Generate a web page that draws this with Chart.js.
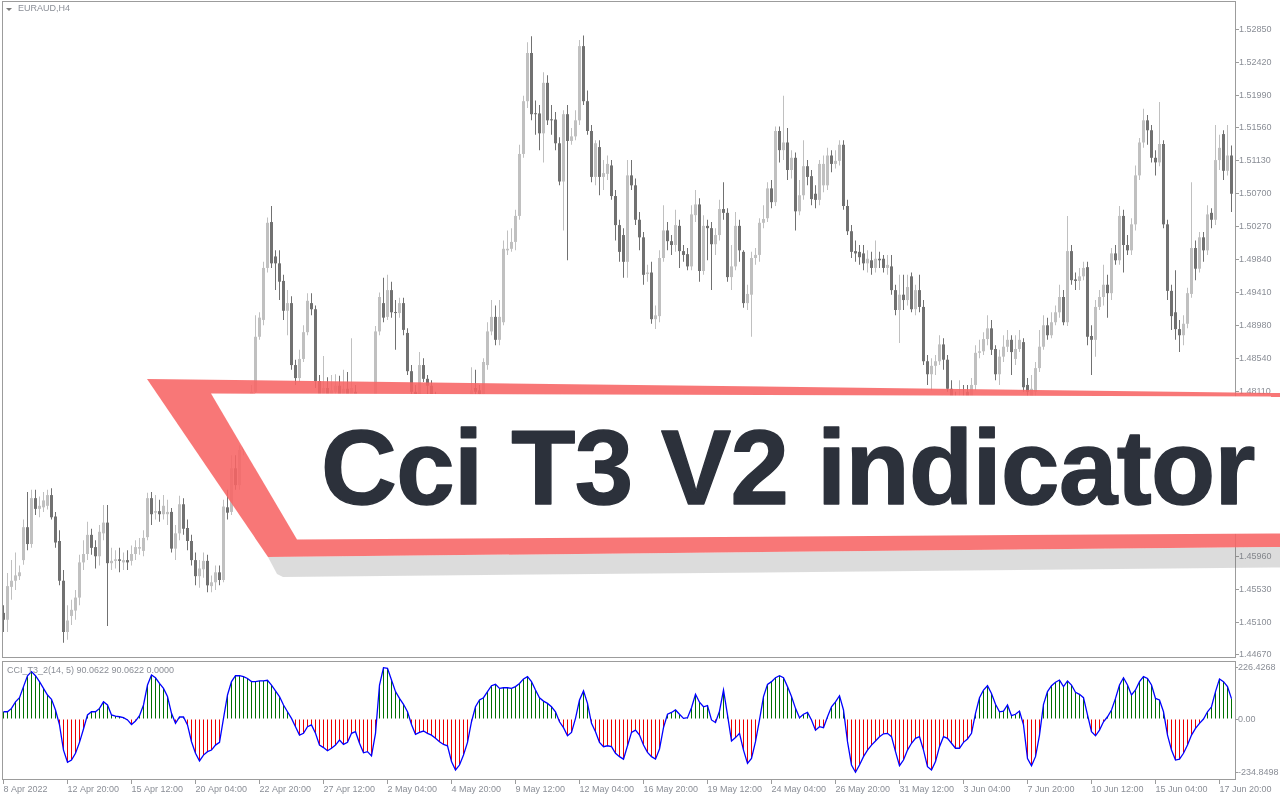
<!DOCTYPE html>
<html><head><meta charset="utf-8">
<script src="https://cdn.jsdelivr.net/npm/chart.js@4.4.1/dist/chart.umd.min.js"></script>
<style>
html,body{margin:0;padding:0;background:#fff;width:1280px;height:800px;overflow:hidden;}
#wrap{position:relative;width:1280px;height:800px;}
canvas{position:absolute;left:0;}
#c1{top:0;} #c2{top:660px;}
.lbl{position:absolute;font-family:'Liberation Sans',Arial,sans-serif;font-size:9px;color:#8a8e96;white-space:nowrap;line-height:1;}
svg{position:absolute;left:0;top:0;}
</style></head><body>
<div id="wrap">
<canvas id="c1" width="1280" height="660"></canvas>
<canvas id="c2" width="1280" height="140"></canvas>
<div class="lbl" style="left:18px;top:3.5px;">EURAUD,H4</div>
<div class="lbl" style="left:7px;top:666px;">CCI_T3_2(14, 5) 90.0622 90.0622 0.0000</div>
<svg width="1280" height="800">
  <polygon points="6,8 12,8 9,11" fill="#7b7b7b"/>
  <polygon points="268,557 1280,547 1280,567.5 283,577 277,574" fill="rgba(110,110,110,0.24)"/>
  <polygon points="147,379 1280,393 1280,547 268,557" fill="rgba(247,100,100,0.88)"/>
  <polygon points="211,393.5 1280,396.5 1280,533.5 297,539.5" fill="#ffffff"/>
  <text x="321" y="504" font-family="Liberation Sans, Arial, sans-serif" font-weight="700" font-size="105" letter-spacing="-0.6" fill="#2c313b" stroke="#2c313b" stroke-width="1.4" stroke-linejoin="round">Cci T3 V2 indicator</text>
</svg>
</div>
<script>
// ---- data (EURAUD H4) ----
const tickLabels = ['8 Apr 2022','12 Apr 20:00','15 Apr 12:00','20 Apr 04:00','22 Apr 20:00','27 Apr 12:00','2 May 04:00','4 May 20:00','9 May 12:00','12 May 04:00','16 May 20:00','19 May 12:00','24 May 04:00','26 May 20:00','31 May 12:00','3 Jun 04:00','7 Jun 20:00','10 Jun 12:00','15 Jun 04:00','17 Jun 20:00'];
const tickBars = [0,16,32,48,64,80,96,112,128,144,160,176,192,208,224,240,256,272,288,304];
const priceTicks = [1.52850,1.52420,1.51990,1.51560,1.51130,1.50700,1.50270,1.49840,1.49410,1.48980,1.48540,1.48110,1.47680,1.47250,1.46820,1.46390,1.45960,1.45530,1.45100,1.44670];
const cciTicks = [-234.8498, 0, 226.4268];
const cciTickLabels = ['-234.8498','0.00','226.4268'];

const open = [
1.4522,1.4513,1.4556,1.4564,1.4570,1.4591,1.4634,1.4612,1.4672,1.4658,1.4660,1.4662,1.4676,1.4648,1.4616,1.4564,
1.4497,1.4518,1.4525,1.4542,1.4588,1.4599,1.4624,1.4608,1.4596,1.4626,1.4640,1.4587,1.4590,1.4592,1.4588,1.4591,
1.4590,1.4599,1.4606,1.4603,1.4621,1.4672,1.4653,1.4655,1.4651,1.4651,1.4654,1.4606,1.4626,1.4664,1.4633,1.4616,
1.4591,1.4570,1.4579,1.4590,1.4557,1.4562,1.4575,1.4565,1.4660,1.4654,1.4711,1.4689,1.4735,1.4761,1.4787,1.4811,
1.4883,1.4905,1.4973,1.5033,1.4988,1.4979,1.4956,1.4917,1.4927,1.4846,1.4829,1.4854,1.4889,1.4927,1.4919,1.4825,
1.4807,1.4816,1.4805,1.4811,1.4819,1.4808,1.4815,1.4807,1.4811,1.4798,1.4785,1.4774,1.4781,1.4772,1.4890,1.4927,
1.4909,1.4944,1.4915,1.4914,1.4927,1.4888,1.4838,1.4811,1.4807,1.4846,1.4828,1.4819,1.4803,1.4794,1.4785,1.4790,
1.4774,1.4748,1.4735,1.4751,1.4774,1.4800,1.4816,1.4813,1.4808,1.4846,1.4890,1.4909,1.4879,1.4902,1.4996,1.4998,
1.5007,1.5041,1.5122,1.5191,1.5254,1.5175,1.5175,1.5149,1.5215,1.5167,1.5167,1.5136,1.5086,1.5174,1.5139,1.5145,
1.5166,1.5263,1.5191,1.5152,1.5092,1.5131,1.5092,1.5096,1.5107,1.5067,1.5029,1.5016,1.4981,1.5094,1.5081,1.5036,
1.5013,1.4965,1.4967,1.4906,1.4910,1.4986,1.5022,1.5008,1.5003,1.5028,1.4995,1.4991,1.4975,1.5042,1.5056,1.4969,
1.5028,1.5025,1.5004,1.5016,1.5050,1.5045,1.4961,1.4975,1.5028,1.4994,1.4927,1.4938,1.4986,1.4990,1.5032,1.5038,
1.5077,1.5059,1.5152,1.5127,1.5137,1.5101,1.5117,1.5047,1.5068,1.5106,1.5093,1.5070,1.5062,1.5081,1.5081,1.5120,
1.5109,1.5113,1.5134,1.5054,1.5021,1.4995,1.4994,1.4992,1.4979,1.4983,1.4973,1.4985,1.4985,1.4973,1.4975,1.4944,
1.4918,1.4938,1.4931,1.4962,1.4919,1.4944,1.4922,1.4851,1.4834,1.4845,1.4851,1.4873,1.4853,1.4815,1.4803,1.4794,
1.4800,1.4811,1.4803,1.4820,1.4862,1.4864,1.4880,1.4894,1.4867,1.4834,1.4857,1.4870,1.4879,1.4854,1.4867,1.4876,
1.4820,1.4800,1.4811,1.4842,1.4870,1.4898,1.4885,1.4902,1.4915,1.4935,1.4902,1.4995,1.4958,1.4956,1.4962,1.4974,
1.4884,1.4879,1.4922,1.4935,1.4951,1.4940,1.4992,1.4983,1.5041,1.5003,1.4996,1.5030,1.5094,1.5137,1.5166,1.5153,
1.5117,1.5111,1.5135,1.5030,1.4943,1.4915,1.4893,1.4885,1.4900,1.4939,1.4999,1.4972,1.5013,1.4996,1.5045,1.5036,
1.5114,1.5148,1.5100,1.5120];

const high = [
1.4532,1.4574,1.4591,1.4601,1.4584,1.4644,1.4680,1.4683,1.4683,1.4674,1.4680,1.4683,1.4685,1.4654,1.4630,1.4578,
1.4532,1.4539,1.4552,1.4598,1.4617,1.4641,1.4632,1.4617,1.4637,1.4663,1.4663,1.4607,1.4604,1.4607,1.4601,1.4604,
1.4610,1.4617,1.4620,1.4630,1.4679,1.4680,1.4676,1.4670,1.4676,1.4670,1.4659,1.4637,1.4675,1.4672,1.4644,1.4624,
1.4601,1.4591,1.4601,1.4598,1.4571,1.4584,1.4584,1.4670,1.4683,1.4728,1.4728,1.4741,1.4768,1.4800,1.4820,1.4911,
1.4915,1.4981,1.5039,1.5054,1.4996,1.4996,1.4964,1.4944,1.4936,1.4853,1.4866,1.4898,1.4940,1.4940,1.4924,1.4833,
1.4858,1.4830,1.4833,1.4834,1.4832,1.4840,1.4837,1.4881,1.4820,1.4805,1.4794,1.4790,1.4790,1.4897,1.4941,1.4960,
1.4964,1.4955,1.4931,1.4934,1.4934,1.4894,1.4846,1.4820,1.4863,1.4855,1.4833,1.4826,1.4811,1.4800,1.4798,1.4795,
1.4781,1.4753,1.4758,1.4781,1.4807,1.4843,1.4840,1.4820,1.4855,1.4902,1.4931,1.4924,1.4931,1.5009,1.5022,1.5025,
1.5049,1.5134,1.5198,1.5268,1.5276,1.5192,1.5186,1.5229,1.5225,1.5186,1.5177,1.5144,1.5179,1.5186,1.5156,1.5179,
1.5271,1.5277,1.5205,1.5160,1.5140,1.5140,1.5114,1.5120,1.5114,1.5075,1.5036,1.5025,1.5114,1.5114,1.5090,1.5046,
1.5020,1.4977,1.4981,1.4924,1.4996,1.5055,1.5033,1.5016,1.5049,1.5036,1.5003,1.4999,1.5055,1.5075,1.5064,1.5042,
1.5036,1.5033,1.5025,1.5062,1.5085,1.5051,1.5003,1.5046,1.5036,1.4996,1.4951,1.4994,1.4999,1.5038,1.5055,1.5085,
1.5088,1.5158,1.5158,1.5198,1.5156,1.5127,1.5124,1.5088,1.5140,1.5114,1.5101,1.5081,1.5114,1.5120,1.5130,1.5127,
1.5127,1.5140,1.5140,1.5062,1.5029,1.5009,1.5003,1.5003,1.4996,1.4994,1.5009,1.4994,1.4990,1.4990,1.4990,1.4951,
1.4964,1.4964,1.4964,1.4967,1.4951,1.4964,1.4931,1.4859,1.4855,1.4859,1.4885,1.4881,1.4859,1.4826,1.4811,1.4826,
1.4820,1.4820,1.4829,1.4872,1.4879,1.4889,1.4911,1.4905,1.4872,1.4866,1.4885,1.4892,1.4885,1.4885,1.4892,1.4881,
1.4829,1.4833,1.4850,1.4892,1.4911,1.4908,1.4915,1.4924,1.4951,1.4944,1.5041,1.5003,1.4967,1.4973,1.4981,1.4981,
1.4898,1.4931,1.4944,1.4977,1.4964,1.4999,1.5003,1.5054,1.5049,1.5016,1.5038,1.5107,1.5143,1.5181,1.5173,1.5160,
1.5127,1.5190,1.5140,1.5036,1.4951,1.4970,1.4905,1.4911,1.4947,1.5085,1.5009,1.5020,1.5020,1.5055,1.5051,1.5160,
1.5147,1.5153,1.5160,1.5133];

const low = [
1.4497,1.4497,1.4539,1.4552,1.4565,1.4585,1.4604,1.4607,1.4650,1.4647,1.4654,1.4657,1.4644,1.4607,1.4558,1.4483,
1.4487,1.4506,1.4513,1.4532,1.4578,1.4591,1.4598,1.4580,1.4584,1.4617,1.4505,1.4578,1.4580,1.4575,1.4578,1.4578,
1.4584,1.4591,1.4598,1.4596,1.4617,1.4637,1.4644,1.4641,1.4644,1.4637,1.4601,1.4591,1.4617,1.4624,1.4604,1.4584,
1.4558,1.4555,1.4568,1.4549,1.4549,1.4552,1.4558,1.4562,1.4644,1.4650,1.4683,1.4683,1.4728,1.4754,1.4780,1.4807,
1.4879,1.4898,1.4967,1.4973,1.4944,1.4931,1.4905,1.4885,1.4840,1.4820,1.4824,1.4850,1.4885,1.4911,1.4816,1.4800,
1.4800,1.4798,1.4800,1.4803,1.4800,1.4803,1.4798,1.4800,1.4790,1.4777,1.4764,1.4768,1.4761,1.4768,1.4885,1.4902,
1.4905,1.4908,1.4866,1.4908,1.4885,1.4833,1.4800,1.4798,1.4803,1.4824,1.4807,1.4798,1.4787,1.4777,1.4780,1.4768,
1.4742,1.4725,1.4728,1.4745,1.4768,1.4794,1.4803,1.4800,1.4803,1.4840,1.4885,1.4872,1.4872,1.4898,1.4990,1.4994,
1.4996,1.5036,1.5117,1.5182,1.5166,1.5147,1.5127,1.5111,1.5160,1.5147,1.5127,1.5081,1.5022,1.4983,1.5134,1.5140,
1.5160,1.5186,1.5147,1.5085,1.5081,1.5068,1.5075,1.5088,1.5062,1.5009,1.4981,1.4960,1.4960,1.5075,1.5029,1.4996,
1.4951,1.4955,1.4900,1.4893,1.4902,1.4981,1.4996,1.4990,1.4994,1.4973,1.4981,1.4970,1.4970,1.5033,1.4955,1.4964,
1.4983,1.4944,1.4990,1.5009,1.5036,1.4955,1.4944,1.4970,1.4981,1.4921,1.4918,1.4883,1.4977,1.4981,1.5025,1.5033,
1.5051,1.5054,1.5111,1.5114,1.5088,1.5090,1.5022,1.5042,1.5062,1.5081,1.5055,1.5051,1.5055,1.5072,1.5075,1.5098,
1.5103,1.5107,1.5049,1.5016,1.4986,1.4981,1.4977,1.4970,1.4967,1.4964,1.4967,1.4973,1.4967,1.4964,1.4938,1.4911,
1.4875,1.4918,1.4924,1.4915,1.4911,1.4915,1.4846,1.4820,1.4813,1.4833,1.4846,1.4840,1.4811,1.4794,1.4785,1.4787,
1.4787,1.4798,1.4798,1.4813,1.4855,1.4859,1.4872,1.4859,1.4826,1.4820,1.4850,1.4863,1.4833,1.4846,1.4863,1.4811,
1.4800,1.4794,1.4806,1.4837,1.4866,1.4879,1.4881,1.4898,1.4908,1.4898,1.4897,1.4951,1.4944,1.4944,1.4957,1.4872,
1.4833,1.4857,1.4918,1.4924,1.4908,1.4931,1.4977,1.4977,1.4967,1.4990,1.4990,1.5022,1.5088,1.5130,1.5134,1.5111,
1.5094,1.5106,1.5025,1.4931,1.4892,1.4879,1.4863,1.4872,1.4894,1.4934,1.4957,1.4967,1.4981,1.4990,1.5025,1.5029,
1.5101,1.5088,1.5094,1.5046];

const close = [
1.4513,1.4557,1.4564,1.4571,1.4575,1.4634,1.4612,1.4672,1.4658,1.4662,1.4669,1.4676,1.4647,1.4614,1.4564,1.4497,
1.4512,1.4526,1.4542,1.4588,1.4599,1.4624,1.4607,1.4596,1.4628,1.4640,1.4587,1.4590,1.4592,1.4590,1.4591,1.4588,
1.4599,1.4608,1.4608,1.4620,1.4672,1.4651,1.4655,1.4651,1.4662,1.4654,1.4606,1.4626,1.4664,1.4632,1.4616,1.4591,
1.4570,1.4580,1.4590,1.4558,1.4562,1.4575,1.4565,1.4661,1.4653,1.4711,1.4689,1.4735,1.4761,1.4787,1.4811,1.4883,
1.4908,1.4973,1.5032,1.4979,1.4979,1.4955,1.4917,1.4927,1.4846,1.4829,1.4854,1.4889,1.4930,1.4919,1.4825,1.4807,
1.4816,1.4805,1.4813,1.4819,1.4808,1.4815,1.4807,1.4816,1.4798,1.4785,1.4774,1.4781,1.4772,1.4890,1.4935,1.4908,
1.4944,1.4915,1.4914,1.4927,1.4892,1.4838,1.4811,1.4807,1.4846,1.4828,1.4819,1.4803,1.4794,1.4785,1.4790,1.4774,
1.4748,1.4735,1.4751,1.4774,1.4800,1.4813,1.4811,1.4808,1.4850,1.4890,1.4909,1.4879,1.4909,1.4998,1.4998,1.5007,
1.5041,1.5122,1.5191,1.5254,1.5174,1.5174,1.5149,1.5215,1.5166,1.5166,1.5136,1.5086,1.5174,1.5139,1.5145,1.5166,
1.5263,1.5191,1.5152,1.5092,1.5136,1.5092,1.5097,1.5109,1.5067,1.5029,1.4994,1.4981,1.5094,1.5081,1.5036,1.5013,
1.4964,1.4967,1.4906,1.4911,1.4986,1.5022,1.5008,1.5003,1.5029,1.4995,1.4990,1.4975,1.5043,1.5056,1.4969,1.5028,
1.5025,1.5004,1.5016,1.5050,1.5045,1.4961,1.4975,1.5028,1.4996,1.4927,1.4939,1.4986,1.4990,1.5032,1.5037,1.5077,
1.5059,1.5152,1.5127,1.5137,1.5101,1.5117,1.5047,1.5068,1.5106,1.5092,1.5063,1.5062,1.5109,1.5109,1.5120,1.5109,
1.5113,1.5134,1.5054,1.5021,1.4994,1.4992,1.4987,1.4979,1.4985,1.4973,1.4985,1.4983,1.4973,1.4977,1.4944,1.4918,
1.4938,1.4931,1.4948,1.4919,1.4944,1.4922,1.4851,1.4834,1.4845,1.4851,1.4873,1.4853,1.4815,1.4803,1.4794,1.4800,
1.4795,1.4803,1.4820,1.4862,1.4864,1.4880,1.4894,1.4866,1.4834,1.4857,1.4870,1.4879,1.4863,1.4867,1.4879,1.4817,
1.4811,1.4815,1.4842,1.4870,1.4898,1.4885,1.4902,1.4915,1.4935,1.4902,1.4995,1.4957,1.4956,1.4962,1.4973,1.4883,
1.4879,1.4922,1.4935,1.4951,1.4940,1.4992,1.4983,1.5041,1.5003,1.4996,1.5030,1.5094,1.5137,1.5166,1.5153,1.5117,
1.5111,1.5135,1.5030,1.4943,1.4910,1.4893,1.4885,1.4900,1.4940,1.4999,1.4972,1.5013,1.4996,1.5043,1.5036,1.5114,
1.5130,1.5100,1.5120,1.5070];

const cci = [
32,32,47,76,94,143,191,209,191,165,135,106,87,40,-26,-137,
-191,-181,-151,-103,-44,18,32,32,47,76,62,18,13,10,6,-4,
-24,-9,15,62,150,194,182,157,135,99,25,-19,9,9,-26,-100,
-151,-185,-159,-144,-137,-115,-103,3,106,165,191,191,187,179,165,165,
168,168,171,150,124,99,62,32,3,-34,-71,-63,-34,-26,-63,-115,
-126,-140,-129,-115,-93,-112,-103,-63,-56,-107,-149,-144,-163,-63,150,226.4268,
224,172,121,91,65,32,-24,-68,-59,-53,-63,-71,-85,-100,-112,-118,
-188,-225,-203,-159,-103,-12,54,84,94,121,147,153,135,138,138,135,
143,157,177,187,165,128,94,79,69,54,32,-12,-38,-74,-59,3,
84,124,69,-19,-56,-103,-122,-118,-122,-151,-166,-177,-118,-59,-49,-71,
-115,-147,-166,-177,-132,-38,21,29,40,21,3,6,50,109,74,54,
59,-4,-15,35,128,18,-97,-82,-63,-137,-196,-174,-100,-4,99,153,
165,182,191,182,143,99,47,6,21,29,-4,-49,-34,-38,10,54,
76,103,40,-100,-203,-234.8498,-203,-166,-137,-115,-97,-78,-65,-63,-78,-144,
-206,-181,-137,-107,-85,-78,-137,-210,-225,-188,-122,-78,-85,-107,-129,-129,
-103,-88,-63,25,94,128,147,113,65,32,35,62,15,21,35,-26,
-174,-206,-166,-71,65,121,147,162,172,143,168,150,118,109,94,18,
-56,-74,-49,-12,10,40,91,150,182,150,106,128,165,187,179,150,
91,84,32,-71,-137,-181,-177,-151,-115,-71,-41,-19,0,32,54,121,
177,165,143,90.0622];

// ---- rendering ----
Chart.defaults.font.family = "'Liberation Sans', Arial, sans-serif";
Chart.defaults.font.size = 9;
const AXIS_COL = '#8a8e96';
const FRAME_COL = '#9c9c9c';
const UP_COL = '#c0c0c0', DN_COL = '#717171';
// tiny line height keeps the y-axis labels from adding auto padding to the plot area
const Y_FONT = {size: 9, lineHeight: 0.05};

const frame = {id:'frame', afterDraw(c){
  const a = c.chartArea, ctx = c.ctx;
  ctx.save(); ctx.strokeStyle = FRAME_COL; ctx.lineWidth = 1;
  ctx.strokeRect(Math.round(a.left) + 0.5, Math.round(a.top) + 0.5,
                 Math.round(a.right - a.left), Math.round(a.bottom - a.top) - 1);
  ctx.restore();
}};

const candleCol = close.map((c, i) => c >= open[i] ? UP_COL : DN_COL);
const bodies = open.map((o, i) => ({x: i, y: [o, close[i]]}));
const wicks = low.map((l, i) => ({x: i, y: [l, high[i]]}));
const X_MIN = -0.375, X_MAX = 307.875;

new Chart(document.getElementById('c1'), {
  type: 'bar',
  data: {datasets: [
    {data: bodies, backgroundColor: candleCol, barThickness: 3, grouped: false, minBarLength: 1, borderWidth: 0, inflateAmount: 0},
    {data: wicks, backgroundColor: candleCol, barThickness: 1, grouped: false, minBarLength: 1, borderWidth: 0, inflateAmount: 0}
  ]},
  options: {
    responsive: false, animation: false, devicePixelRatio: 1,
    layout: {autoPadding: false, padding: {left: 2, top: 1, right: 0, bottom: 2}},
    plugins: {legend: {display: false}, tooltip: {enabled: false}},
    scales: {
      x: {type: 'linear', min: X_MIN, max: X_MAX, display: false, offset: false, grid: {offset: false}},
      y: {position: 'right', min: 1.4463, max: 1.5322,
        afterBuildTicks: s => { s.ticks = priceTicks.map(v => ({value: v})); },
        afterFit: s => { s.width = 45; },
        ticks: {callback: v => Number(v).toFixed(5), color: AXIS_COL, padding: 0, autoSkip: false, font: Y_FONT},
        grid: {drawOnChartArea: false, drawTicks: true, tickLength: 4, color: FRAME_COL},
        border: {display: false}
      }
    }
  },
  plugins: [frame]
});

const cciPts = cci.map((v, i) => ({x: i, y: v}));
new Chart(document.getElementById('c2'), {
  type: 'bar',
  data: {datasets: [
    {type: 'line', data: cciPts, borderColor: '#0000ff', borderWidth: 1.3, pointRadius: 0, tension: 0, fill: false},
    {data: cciPts, backgroundColor: cci.map(v => v >= 0 ? '#007000' : '#ee0000'), barThickness: 1, grouped: false, borderWidth: 0, inflateAmount: 0}
  ]},
  options: {
    responsive: false, animation: false, devicePixelRatio: 1,
    layout: {autoPadding: false, padding: {left: 2, top: 1, right: 0, bottom: 0}},
    plugins: {legend: {display: false}, tooltip: {enabled: false}},
    scales: {
      x: {type: 'linear', min: X_MIN, max: X_MAX, offset: false, position: 'bottom',
        afterBuildTicks: s => { s.ticks = tickBars.map(v => ({value: v})); },
        afterFit: s => { s.height = 20; },
        ticks: {autoSkip: false, maxRotation: 0, minRotation: 0, align: 'start', padding: 0, color: AXIS_COL,
                callback: (v, i) => tickLabels[i]},
        grid: {drawOnChartArea: false, drawTicks: true, tickLength: 4, color: FRAME_COL, offset: false},
        border: {display: false}
      },
      y: {position: 'right', min: -269, max: 256,
        afterBuildTicks: s => { s.ticks = cciTicks.map(v => ({value: v})); },
        afterFit: s => { s.width = 45; },
        ticks: {callback: (v, i) => cciTickLabels[i], color: AXIS_COL, padding: 0, autoSkip: false, font: Y_FONT},
        grid: {drawOnChartArea: false, drawTicks: true, tickLength: 3, color: FRAME_COL},
        border: {display: false}
      }
    }
  },
  plugins: [frame]
});
</script>
</body></html>
